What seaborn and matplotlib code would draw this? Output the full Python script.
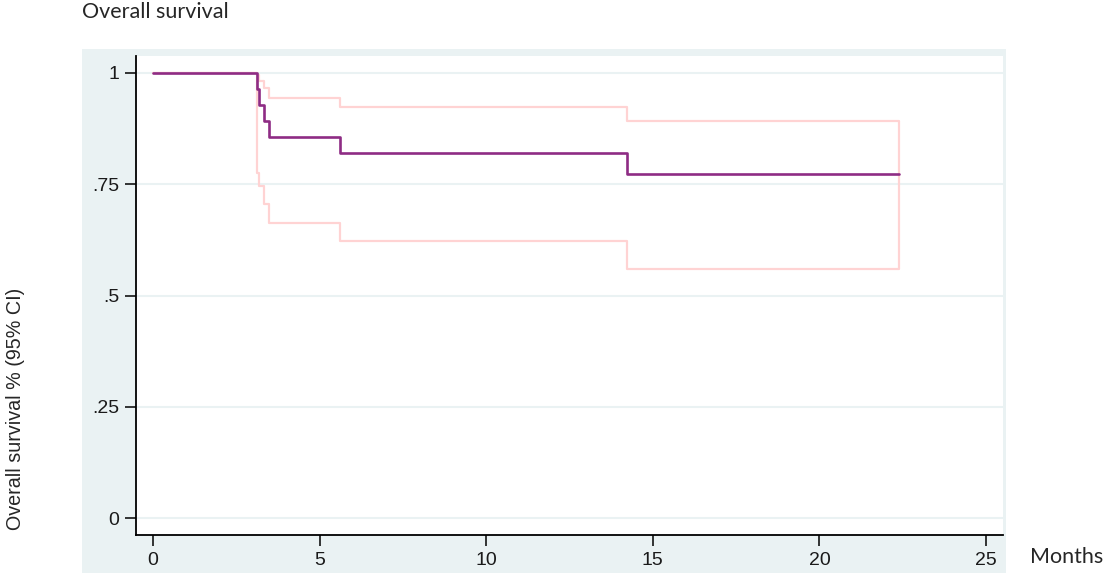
import matplotlib
matplotlib.use("Agg")
import matplotlib.pyplot as plt
import seaborn as sns
import pandas as pd
from matplotlib.patches import Rectangle

# Kaplan-Meier estimate
months = [0, 3.13, 3.19, 3.34, 3.49, 5.61, 14.22, 22.4]
survival = [1.0, 0.964, 0.929, 0.893, 0.857, 0.821, 0.772, 0.772]
ci_upper = [1.0, 0.995, 0.982, 0.965, 0.944, 0.923, 0.891, 0.891]
ci_lower = [1.0, 0.775, 0.745, 0.705, 0.662, 0.622, 0.560, 0.560]

y_ticks = [0, 0.25, 0.5, 0.75, 1]
y_labels = ["0", ".25", ".5", ".75", "1"]
x_ticks = [0, 5, 10, 15, 20, 25]

df = pd.DataFrame({"months": months, "survival": survival,
                   "upper": ci_upper, "lower": ci_lower})

sns.set_style("white")
plt.rcParams["font.family"] = ["Liberation Sans", "DejaVu Sans"]

W, H = 1109, 578
fig = plt.figure(figsize=(W / 100, H / 100), dpi=100)
fig.patch.set_facecolor("white")

panel_bg = "#eaf2f3"
# Stata-style outer panel
fig.patches.append(Rectangle((82 / W, 1 - 573 / H), (1006 - 82) / W, (573 - 49) / H,
                             transform=fig.transFigure, facecolor=panel_bg,
                             edgecolor="none", zorder=0))

ax = fig.add_axes([136 / W, 1 - 535 / H, (1003 - 136) / W, (535 - 56) / H])
ax.set_zorder(2)
ax.set_facecolor("white")

ci_col = "#ffd3d3"
sns.lineplot(data=df, x="months", y="upper", ax=ax, drawstyle="steps-post",
             color=ci_col, linewidth=1.6, zorder=2)
sns.lineplot(data=df, x="months", y="lower", ax=ax, drawstyle="steps-post",
             color=ci_col, linewidth=1.6, zorder=2)
# closing segment at the last follow-up time
ax.vlines(months[-1], ci_lower[-1], ci_upper[-1], color=ci_col, linewidth=1.6, zorder=2)
sns.lineplot(data=df, x="months", y="survival", ax=ax, drawstyle="steps-post",
             color="#8e2c84", linewidth=1.9, zorder=3)

ax.set_xlim(-0.51, 25.51)
ax.set_ylim(-0.038, 1.038)
ax.set_xticks(x_ticks)
ax.set_yticks(y_ticks)
ax.set_yticklabels(y_labels)
ax.yaxis.grid(True, color=panel_bg, linewidth=1.5, zorder=0)
ax.set_axisbelow(True)

for s in ["top", "right"]:
    ax.spines[s].set_visible(False)
for s in ["left", "bottom"]:
    ax.spines[s].set_color("black")
    ax.spines[s].set_linewidth(1.3)

ax.tick_params(axis="both", direction="out", length=8, width=1.1, color="black",
               labelsize=14, labelcolor="#1a1a1a", pad=4, left=True, bottom=True)
ax.set_xlabel("")
ax.set_ylabel("")

fig.text(82 / W, 1 - 12 / H, "Overall survival", family=["Lato", "DejaVu Sans"],
         fontsize=15.5, va="center", ha="left")
fig.text(1030 / W, 1 - 557 / H, "Months", family=["Lato", "DejaVu Sans"],
         fontsize=15.5, va="center", ha="left")
fig.text(16 / W, 1 - 409 / H, "Overall survival % (95% CI)", rotation=90,
         fontsize=14.2, va="center", ha="center")

fig.savefig("out.png", dpi=100)
